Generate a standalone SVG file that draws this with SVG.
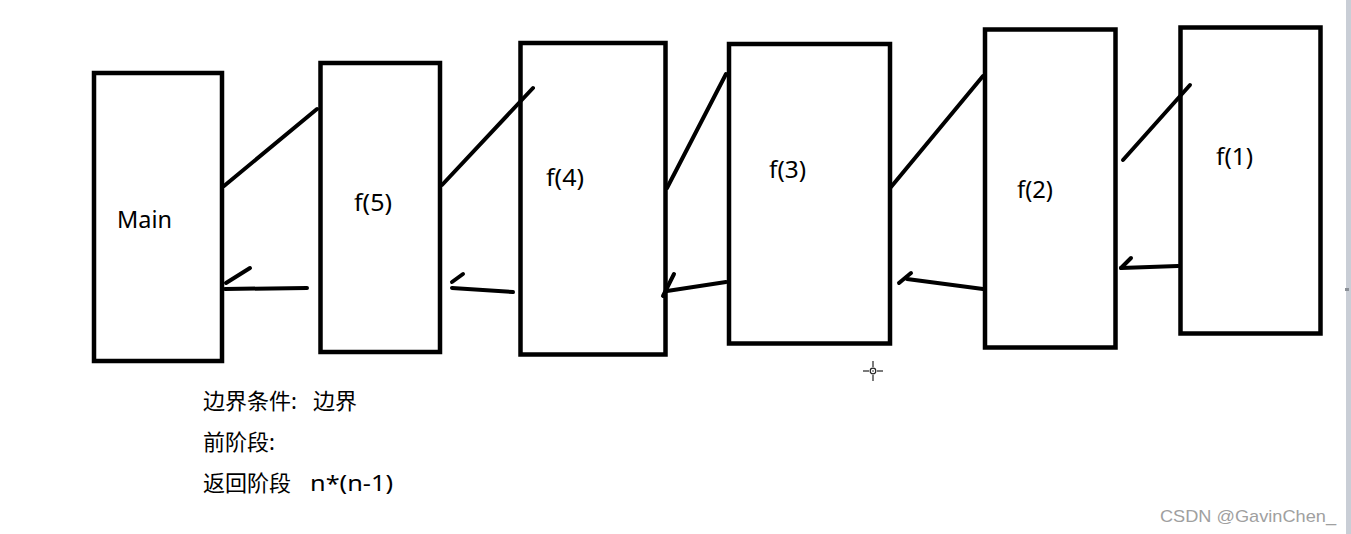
<svg xmlns="http://www.w3.org/2000/svg" width="1351" height="534" viewBox="0 0 1351 534">
<style>
.box{fill:#fff;stroke:#000;stroke-width:4.5}
.ln{stroke:#000;stroke-width:4;stroke-linecap:round;fill:none}
.lbl{font-family:"Noto Sans","Liberation Sans",sans-serif;font-size:23px;fill:#000}
.note{font-family:"Noto Sans","Noto Sans CJK SC",sans-serif;font-size:22px;fill:#000}
.wm{font-family:"Liberation Sans","Noto Sans",sans-serif;font-size:17px;fill:#a0a0a0}
</style>
<rect x="0" y="0" width="1351" height="534" fill="#fff"/>
<rect x="1346" y="0" width="5" height="534" fill="#c9ced6"/>
<rect x="1345" y="288" width="4" height="3" fill="#8a8f96"/>
<g id="main"><rect class="box" x="94" y="73" width="128" height="288"/><text class="lbl" x="117" y="228" textLength="55" lengthAdjust="spacingAndGlyphs">Main</text></g>
<g id="f5"><rect class="box" x="320.5" y="63" width="119.5" height="289"/><text class="lbl" x="354" y="211" textLength="38" lengthAdjust="spacingAndGlyphs">f(5)</text></g>
<g id="f4"><rect class="box" x="520.5" y="43" width="145" height="311.5"/><text class="lbl" x="546" y="186" textLength="38" lengthAdjust="spacingAndGlyphs">f(4)</text></g>
<g id="f3"><rect class="box" x="729" y="44" width="161" height="299.5"/><text class="lbl" x="769" y="178" textLength="37" lengthAdjust="spacingAndGlyphs">f(3)</text></g>
<g id="f2"><rect class="box" x="985" y="29.5" width="130.5" height="318"/><text class="lbl" x="1017" y="198" textLength="36" lengthAdjust="spacingAndGlyphs">f(2)</text></g>
<g id="f1"><rect class="box" x="1180.5" y="27.5" width="140" height="306"/><text class="lbl" x="1216" y="165" textLength="37" lengthAdjust="spacingAndGlyphs">f(1)</text></g>
<g id="connectors">
<line class="ln" x1="224" y1="186" x2="317" y2="109"/>
<line class="ln" x1="442" y1="185" x2="533" y2="88"/>
<line class="ln" x1="667" y1="188" x2="726" y2="74"/>
<line class="ln" x1="891" y1="187" x2="983" y2="76"/>
<line class="ln" x1="1123" y1="160" x2="1190" y2="85"/>
<line class="ln" x1="225" y1="289" x2="307" y2="288"/>
<line class="ln" x1="226" y1="283" x2="250" y2="268"/>
<line class="ln" x1="513" y1="292" x2="452" y2="288"/>
<line class="ln" x1="452" y1="282" x2="463" y2="274"/>
<line class="ln" x1="726" y1="282" x2="667" y2="291"/>
<line class="ln" x1="663" y1="296" x2="674" y2="274"/>
<line class="ln" x1="983" y1="289" x2="907" y2="279"/>
<line class="ln" x1="899" y1="283" x2="911" y2="273"/>
<line class="ln" x1="1178" y1="266" x2="1121" y2="268"/>
<line class="ln" x1="1121" y1="268" x2="1131" y2="258"/>
</g>
<g id="cursor" stroke="#222" stroke-width="1.2">
<line x1="873" y1="361" x2="873" y2="367"/>
<line x1="873" y1="375" x2="873" y2="381"/>
<line x1="863" y1="371" x2="869" y2="371"/>
<line x1="877" y1="371" x2="883" y2="371"/>
<circle cx="873" cy="371" r="2.8" fill="none"/>
<circle cx="873" cy="371" r="0.8" fill="#222" stroke="none"/>
</g>
<text class="note" x="203" y="409">边界条件:<tspan x="313">边界</tspan></text>
<text class="note" x="203" y="450">前阶段:</text>
<text class="note" x="203" y="491">返回阶段<tspan x="310" textLength="83" lengthAdjust="spacingAndGlyphs">n*(n-1)</tspan></text>
<text class="wm" x="1160" y="522" textLength="176" lengthAdjust="spacingAndGlyphs">CSDN @GavinChen_</text>
</svg>
